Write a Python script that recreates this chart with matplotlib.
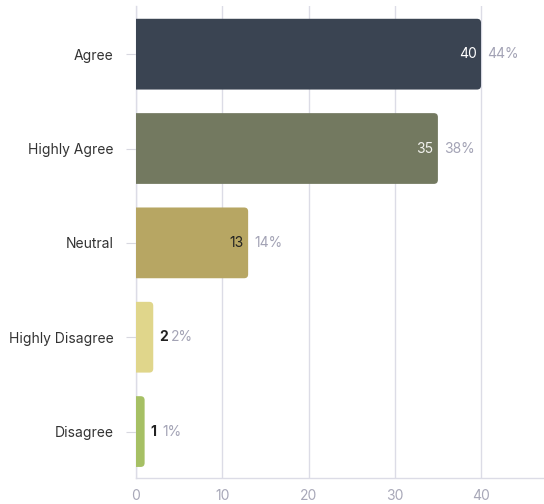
import matplotlib
matplotlib.use("Agg")
import matplotlib.pyplot as plt
from matplotlib.patches import FancyBboxPatch

categories = ["Agree", "Highly Agree", "Neutral", "Highly Disagree", "Disagree"]
counts = [40, 35, 13, 2, 1]
percents = ["44%", "38%", "14%", "2%", "1%"]
colors = ["#3a4452", "#737960", "#b7a663", "#e0d68b", "#a6c064"]
inside_label = [True, True, True, False, False]
label_colors = ["#ffffff", "#f2f2ee", "#222222", "#222222", "#222222"]

plt.rcParams["font.family"] = ["Inter", "DejaVu Sans"]

fig = plt.figure(figsize=(5.44, 5.04), dpi=100)
ax = fig.add_axes([0.25, 0.052, 0.75, 0.936])

xmax = 47.3
ax.set_xlim(0, xmax)
ax.set_ylim(4.49, -0.51)

ypos = list(range(len(categories)))
bar_h = 0.75

# pixel aspect for rounded corners
ax_w_px = 0.75 * 544
ax_h_px = 0.936 * 504
x_per_px = xmax / ax_w_px
y_per_px = 5.0 / ax_h_px
aspect = y_per_px / x_per_px
radius = 4 * x_per_px

for y, v, c in zip(ypos, counts, colors):
    patch = FancyBboxPatch((-1.0, y - bar_h / 2), v + 1.0, bar_h,
                           boxstyle=f"round,pad=0,rounding_size={radius}",
                           mutation_aspect=aspect,
                           facecolor=c, edgecolor="none", zorder=3)
    ax.add_patch(patch)
    patch.set_clip_path(ax.patch)

fs = 10
for y, v, p, inside, lc in zip(ypos, counts, percents, inside_label, label_colors):
    if inside:
        ax.text(v - 0.5, y, str(v), ha="right", va="center", fontsize=fs,
                color=lc, zorder=4)
        ax.text(v + 0.7, y, p, ha="left", va="center", fontsize=fs,
                color="#a3a3b5", zorder=4)
    else:
        ax.text(v + 0.7, y, str(v), ha="left", va="center", fontsize=fs,
                color=lc, fontweight="bold", zorder=4)
        ax.text(v + 0.7 + 1.3, y, p, ha="left", va="center", fontsize=fs,
                color="#a3a3b5", zorder=4)

ax.set_yticks(ypos)
ax.set_yticklabels(categories, fontsize=fs, color="#333333")
ax.set_xticks([0, 10, 20, 30, 40])
ax.tick_params(axis="x", length=0, pad=8, labelsize=fs, labelcolor="#a8a8b8")
ax.tick_params(axis="y", length=7, width=0.8, color="#d8d8e0", pad=9)

ax.grid(axis="x", color="#dcdce6", linewidth=1.0, zorder=0)
ax.set_axisbelow(True)
for s in ["top", "right"]:
    ax.spines[s].set_visible(False)
ax.spines["left"].set_color("#dcdce6")
ax.spines["bottom"].set_color("#dcdce6")
ax.spines["left"].set_linewidth(1.0)
ax.spines["bottom"].set_linewidth(1.0)

fig.savefig("out.png", dpi=100, facecolor="white")
